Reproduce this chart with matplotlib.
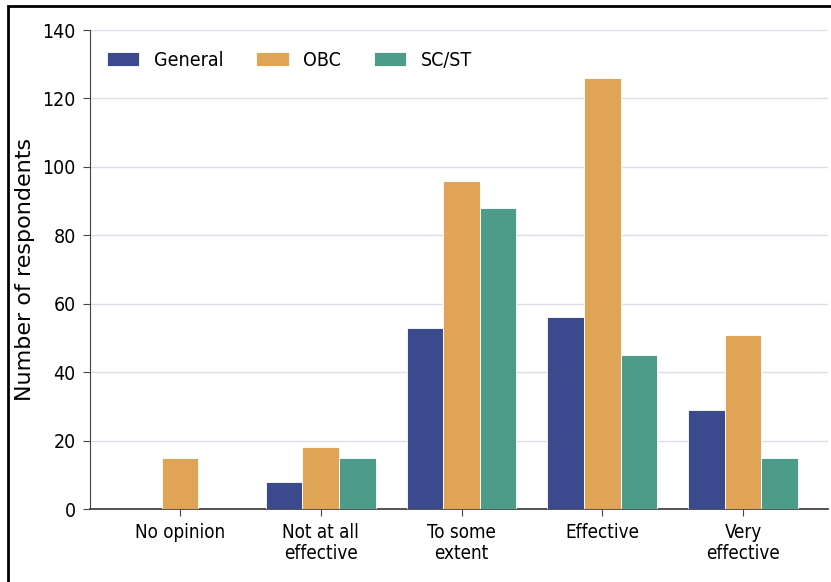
import numpy as np
import matplotlib
matplotlib.use("Agg")
import matplotlib.pyplot as plt
from matplotlib.patches import Rectangle

categories = ["No opinion", "Not at all\neffective", "To some\nextent", "Effective", "Very\neffective"]
groups = ["General", "OBC", "SC/ST"]
general = [0, 8, 53, 56, 29]
obc = [15, 18, 96, 126, 51]
scst = [0, 15, 88, 45, 15]
colors = ["#3b4a8c", "#e0a456", "#4d9c89"]
yticks = [0, 20, 40, 60, 80, 100, 120, 140]

fig = plt.figure(figsize=(8.31, 5.82), dpi=100)
ax = fig.add_axes([0.108, 0.1254, 0.888, 0.823])

x = np.arange(len(categories))
w = 0.26
for i, (vals, name) in enumerate(zip([general, obc, scst], groups)):
    ax.bar(x + (i - 1) * w, vals, w, color=colors[i], edgecolor="white",
           linewidth=0.6, label=name, zorder=3)

narrow = dict(family="DejaVu Sans", stretch="condensed")
ax.set_xlim(-0.64, 4.6)
ax.set_ylim(0, 140)
ax.set_yticks(yticks)
ax.set_xticks(x)
ax.set_xticklabels(categories, fontsize=13.5, linespacing=1.15, **narrow)
ax.set_yticklabels([str(t) for t in yticks], fontsize=14, **narrow)
ax.set_ylabel("Number of respondents", fontsize=16)
ax.yaxis.set_label_coords(-0.074, 0.5)
ax.grid(axis="y", color="#dcdde8", lw=1, zorder=0)
ax.spines["top"].set_visible(False)
ax.spines["right"].set_visible(False)
ax.spines["left"].set_color("#444444")
ax.spines["bottom"].set_color("#444444")
ax.spines["bottom"].set_linewidth(1.3)
ax.tick_params(axis="both", length=5, color="#444444", pad=5)

leg = ax.legend(loc="center left", ncol=3, frameon=False, handlelength=1.65,
                handleheight=0.8, columnspacing=1.7, handletextpad=0.75,
                bbox_to_anchor=(0.0, 0.937), prop=dict(size=14, **narrow))

# screenshot frame
fig.add_artist(Rectangle((0.010, -0.01), 1.0, 0.999, transform=fig.transFigure,
                         fill=False, edgecolor="black", lw=2.0))

fig.savefig("out.png", dpi=100)
